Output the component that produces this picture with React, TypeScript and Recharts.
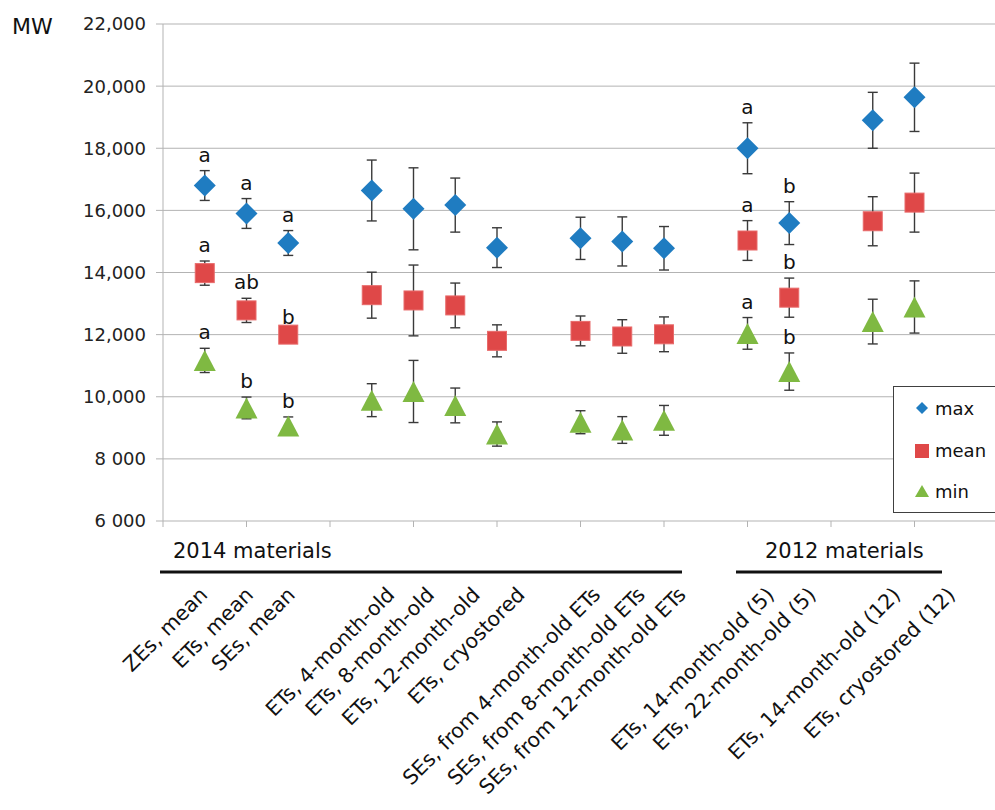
import React from 'react';
import { ScatterChart, Scatter, XAxis, YAxis, ReferenceLine, ErrorBar, Legend, Customized } from 'recharts';

const FONT = '"DejaVu Sans", sans-serif';

// category slots along the x axis ('' = empty gap slot)
const categories = [
  '', 'ZEs, mean', 'ETs, mean', 'SEs, mean',
  '', 'ETs, 4-month-old', 'ETs, 8-month-old', 'ETs, 12-month-old', 'ETs, cryostored',
  '', 'SEs, from 4-month-old ETs', 'SEs, from 8-month-old ETs', 'SEs, from 12-month-old ETs',
  '', 'ETs, 14-month-old (5)', 'ETs, 22-month-old (5)',
  '', 'ETs, 14-month-old (12)', 'ETs, cryostored (12)',
];

const maxValues = [16800, 15900, 14950, 16640, 16050, 16170, 14800, 15100, 15000, 14780, 18000, 15590, 18900, 19640];
const maxErrors = [480, 480, 400, 980, 1320, 870, 640, 680, 790, 700, 820, 690, 900, 1100];
const meanValues = [13980, 12780, 12000, 13270, 13100, 12940, 11800, 12120, 11940, 12010, 15030, 13190, 15650, 16250];
const meanErrors = [390, 390, 50, 740, 1140, 720, 515, 480, 540, 560, 640, 630, 790, 950];
const minValues = [11170, 9640, 9060, 9890, 10170, 9720, 8800, 9180, 8930, 9240, 12040, 10810, 12420, 12890];
const minErrors = [390, 350, 290, 530, 1000, 560, 390, 370, 430, 480, 510, 600, 720, 840];

const maxLetters = ['a', 'a', 'a', '', '', '', '', '', '', '', 'a', 'b', '', ''];
const meanLetters = ['a', 'ab', 'b', '', '', '', '', '', '', '', 'a', 'b', '', ''];
const minLetters = ['a', 'b', 'b', '', '', '', '', '', '', '', 'a', 'b', '', ''];

const yTicks = [6000, 8000, 10000, 12000, 14000, 16000, 18000, 20000, 22000];
const yTickLabels = ['6 000', '8 000', '10,000', '12,000', '14,000', '16,000', '18,000', '20,000', '22,000'];
const xTicks = Array.from({ length: 21 }, (_, i) => i);

// hand-placed look of the rotated labels: shift of each label end (px)
const labelNudge = [4, 8, 8, 24, 22, 26, 29, 21, 24, 23, 28, 28, 29, 42];

const BLUE = '#1f7cc1';
const RED = '#df4848';
const GREEN = '#7fb942';
const BAR = '#3a3a3a';
const GRID = '#b3b3b3';
const AXIS_Y = 521;

const slots = categories.map((c, i) => (c ? i : -1)).filter((i) => i >= 0);

const rows = (vals: number[], errs: number[]) =>
  vals.map((v, i) => ({ x: slots[i], y: v, err: errs[i] }));

const maxData = rows(maxValues, maxErrors);
const meanData = rows(meanValues, meanErrors);
const minData = rows(minValues, minErrors);

// letters sit just above the top of each error bar
const letterData = [
  ...maxValues.map((v, i) => ({ x: slots[i], y: v + maxErrors[i], letter: maxLetters[i] })),
  ...meanValues.map((v, i) => ({ x: slots[i], y: v + meanErrors[i], letter: meanLetters[i] })),
  ...minValues.map((v, i) => ({ x: slots[i], y: v + minErrors[i], letter: minLetters[i] })),
].filter((d) => d.letter);

const Diamond = (p: any) => (
  <path d={`M${p.cx},${p.cy - 11} L${p.cx + 11},${p.cy} L${p.cx},${p.cy + 11} L${p.cx - 11},${p.cy} Z`} fill={BLUE} />
);

const Square = (p: any) => (
  <rect x={p.cx - 9.5} y={p.cy - 9.5} width={19} height={19} fill={RED} stroke="#e86a6a" strokeWidth={1} />
);

const Triangle = (p: any) => (
  <path d={`M${p.cx},${p.cy - 10.5} L${p.cx + 11},${p.cy + 10.5} L${p.cx - 11},${p.cy + 10.5} Z`} fill={GREEN} />
);

const Letter = (p: any) => (
  <text x={p.cx} y={p.cy - 9} textAnchor="middle" fontSize={20} fontFamily={FONT} fill="#111">
    {p.payload.letter}
  </text>
);

// x axis tick: short outward mark on even slots, rotated label on named slots
const XTick = (props: any) => {
  const x = Number(props.x);
  const v = props.payload.value;
  const label = categories[v];
  const k = slots.indexOf(v);
  const X = x + (k >= 0 ? labelNudge[k] : 0);
  const Y = 596;
  return (
    <g>
      {v % 2 === 0 && (
        <path d={`M${x},${AXIS_Y} L${x},${AXIS_Y + 6}`} stroke={GRID} strokeWidth={1} fill="none" />
      )}
      {label && (
        <text
          x={X}
          y={Y}
          textAnchor="end"
          fontSize={20.5}
          fontFamily={FONT}
          fill="#111"
          transform={`rotate(-45, ${X}, ${Y})`}
        >
          {label}
        </text>
      )}
    </g>
  );
};

const Annotations = () => (
  <g>
    <text x={12} y={34} fontSize={22} fontFamily={FONT} fill="#111">MW</text>
    <text x={173} y={558} fontSize={21} fontFamily={FONT} fill="#111">2014 materials</text>
    <line x1={160} y1={572} x2={682} y2={572} stroke="#111" strokeWidth={3} />
    <text x={765} y={558} fontSize={21} fontFamily={FONT} fill="#111">2012 materials</text>
    <line x1={736} y1={572} x2={942} y2={572} stroke="#111" strokeWidth={3} />
  </g>
);

const LegendBox = () => (
  <div style={{ width: 110, height: 127, border: '1px solid #404040', boxSizing: 'border-box', background: '#fff' }}>
    <svg width={108} height={125}>
      <path d="M28,15 L34,21 L28,27 L22,21 Z" fill={BLUE} />
      <text x={41} y={28} fontSize={18} fontFamily={FONT} fill="#111">max</text>
      <rect x={21} y={57} width={14} height={14} fill={RED} />
      <text x={41} y={70} fontSize={18} fontFamily={FONT} fill="#111">mean</text>
      <path d="M28,98 L35,110 L21,110 Z" fill={GREEN} />
      <text x={41} y={111} fontSize={18} fontFamily={FONT} fill="#111">min</text>
    </svg>
  </div>
);

export default function App() {
  return (
    <div style={{ position: 'absolute', left: 0, top: 0, width: 995, height: 810, overflow: 'hidden', background: '#fff' }}>
      <ScatterChart width={1000} height={810} margin={{ top: 24, right: 2, bottom: 0, left: 0 }}>
        {yTicks.slice(1).map((v) => (
          <ReferenceLine key={v} y={v} stroke={GRID} strokeWidth={1} />
        ))}
        <XAxis
          type="number"
          dataKey="x"
          domain={[0, 20]}
          ticks={xTicks}
          interval={0}
          tick={<XTick />}
          tickLine={false}
          tickSize={0}
          tickMargin={0}
          height={289}
          axisLine={{ stroke: GRID }}
          allowDataOverflow
        />
        <YAxis
          type="number"
          dataKey="y"
          domain={[6000, 22000]}
          ticks={yTicks}
          interval={0}
          width={163}
          tickSize={7}
          tickMargin={10}
          tickFormatter={(v: number) => yTickLabels[yTicks.indexOf(v)]}
          tick={{ fill: '#222', fontSize: 18, fontFamily: FONT }}
          axisLine={{ stroke: GRID }}
          tickLine={{ stroke: GRID }}
        />
        <Legend
          layout="vertical"
          align="center"
          verticalAlign="middle"
          wrapperStyle={{ left: 893, top: 386, width: 110 }}
          content={() => <LegendBox />}
        />
        <Scatter name="max" data={maxData} shape={Diamond} isAnimationActive={false}>
          <ErrorBar dataKey="err" direction="y" width={5} stroke={BAR} strokeWidth={1.4} />
        </Scatter>
        <Scatter name="mean" data={meanData} shape={Square} isAnimationActive={false}>
          <ErrorBar dataKey="err" direction="y" width={5} stroke={BAR} strokeWidth={1.4} />
        </Scatter>
        <Scatter name="min" data={minData} shape={Triangle} isAnimationActive={false}>
          <ErrorBar dataKey="err" direction="y" width={5} stroke={BAR} strokeWidth={1.4} />
        </Scatter>
        <Scatter name="letters" data={letterData} shape={Letter} legendType="none" isAnimationActive={false} />
        <Customized component={Annotations} />
      </ScatterChart>
    </div>
  );
}
